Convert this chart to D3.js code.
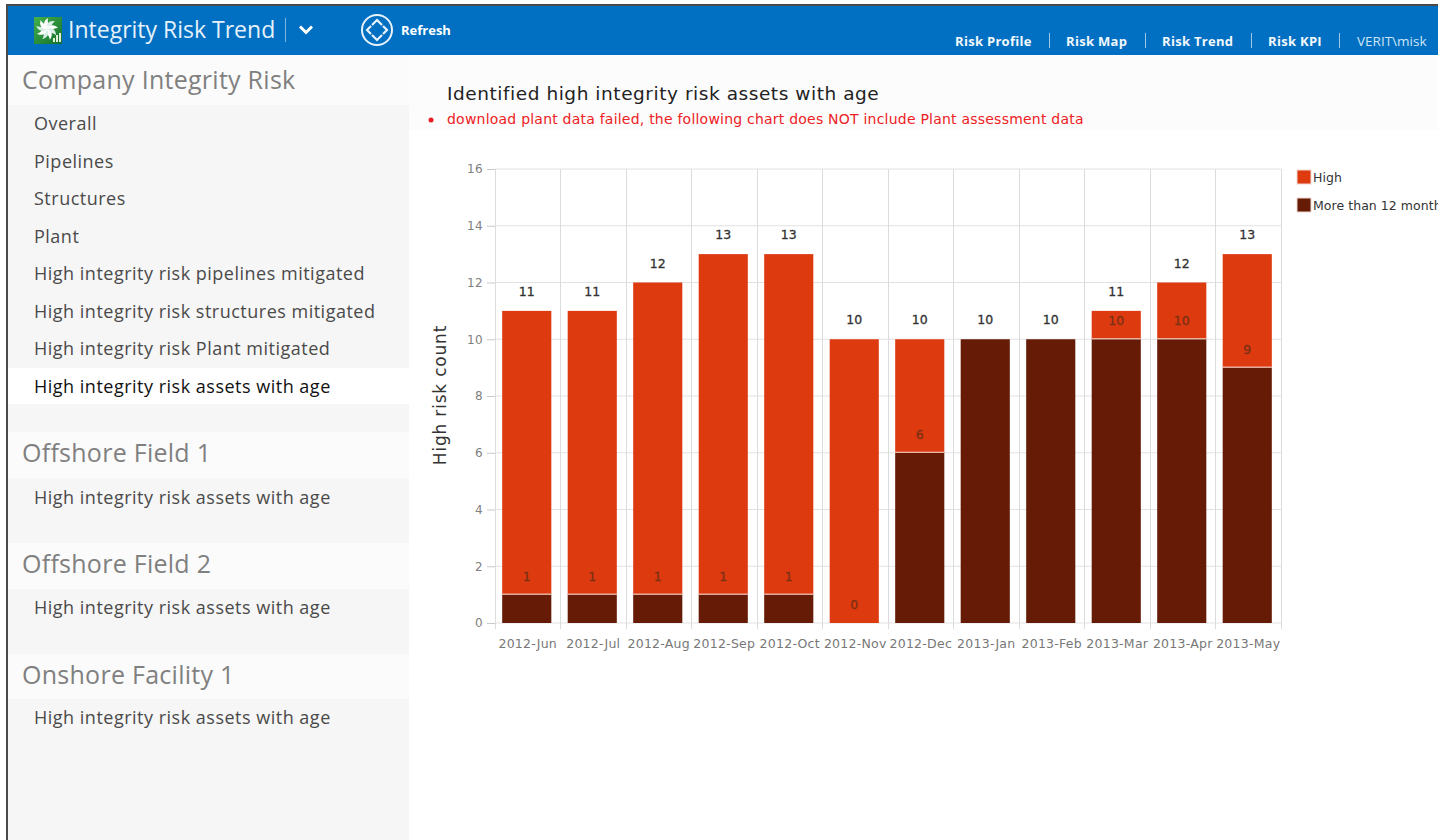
<!DOCTYPE html>
<html>
<head>
<meta charset="utf-8">
<title>Integrity Risk Trend</title>
<script src="https://cdn.jsdelivr.net/npm/d3@7"></script>
<style>
    html, body { margin: 0; padding: 0; background: #fff; overflow: hidden; }
    svg { display: block; }
    .ui { font-family: "Open Sans", "Noto Sans", sans-serif; }
    .chart text { font-family: "DejaVu Sans", sans-serif; }
</style>
</head>
<body>
<div id="block"></div>
<script>
// chart data
var months = ["2012-Jun", "2012-Jul", "2012-Aug", "2012-Sep", "2012-Oct", "2012-Nov",
              "2012-Dec", "2013-Jan", "2013-Feb", "2013-Mar", "2013-Apr", "2013-May"];
var olderCounts = [1, 1, 1, 1, 1, 0, 6, 10, 10, 10, 10, 9];
var highCounts = [10, 10, 11, 12, 12, 10, 4, 0, 0, 1, 2, 4];
var yTicks = [0, 2, 4, 6, 8, 10, 12, 14, 16];
var seriesNames = ["High", "More than 12 months"];
var seriesColors = ["#de3a10", "#661b07"];

// page text
var sections = ["Company Integrity Risk", "Offshore Field 1", "Offshore Field 2", "Onshore Facility 1"];
var companyItems = ["Overall", "Pipelines", "Structures", "Plant",
                    "High integrity risk pipelines mitigated",
                    "High integrity risk structures mitigated",
                    "High integrity risk Plant mitigated",
                    "High integrity risk assets with age"];
var fieldItem = "High integrity risk assets with age";
var navLinks = ["Risk Profile", "Risk Map", "Risk Trend", "Risk KPI"];

var svg = d3.select("#block")
            .append("svg")
            .attr("width", 1438)
            .attr("height", 840);

drawHeader();
drawSidebar();
drawChart();

function drawHeader() {
    // window frame and blue bar
    svg.append("rect").attr("x", 6).attr("y", 4).attr("width", 1432).attr("height", 2).attr("fill", "#4a4a4a");
    svg.append("rect").attr("x", 6).attr("y", 4).attr("width", 2).attr("height", 836).attr("fill", "#4a4a4a");
    svg.append("rect").attr("x", 8).attr("y", 6).attr("width", 1430).attr("height", 49).attr("fill", "#0170c2");

    // logo: pinwheel on a green tile with a small bar glyph
    var grad = svg.append("defs").append("linearGradient")
                  .attr("id", "logoFill").attr("x1", 0).attr("y1", 0).attr("x2", 1).attr("y2", 1);
    grad.append("stop").attr("offset", 0).attr("stop-color", "#45b04a");
    grad.append("stop").attr("offset", 1).attr("stop-color", "#12702c");

    var logo = svg.append("g").attr("transform", "translate(34,17)");
    logo.append("rect").attr("width", 28).attr("height", 27).attr("fill", "url(#logoFill)");
    d3.range(9).forEach(function (i) {
        logo.append("path")
            .attr("d", "M13,12 C9,9 9,4 14,1 C13,5 15,8 16,11 Z")
            .attr("fill", i % 2 ? "#d7efe6" : "#ffffff")
            .attr("transform", "rotate(" + (i * 40) + " 13 12)");
    });
    [[19, 4], [22, 7], [25, 9]].forEach(function (b) {
        logo.append("rect").attr("x", b[0]).attr("y", 25 - b[1]).attr("width", 2).attr("height", b[1]).attr("fill", "#dff0d8");
    });

    svg.append("text").attr("class", "ui")
       .attr("x", 68).attr("y", 38)
       .attr("font-size", 23).attr("fill", "#e6f1fa")
       .text("Integrity Risk Trend");
    svg.append("line").attr("x1", 285.5).attr("x2", 285.5).attr("y1", 18).attr("y2", 42)
       .attr("stroke", "#7fb6e0");
    svg.append("path").attr("d", "M300,26.5 l6,6 l6,-6")
       .attr("fill", "none").attr("stroke", "#fff").attr("stroke-width", 3);

    // refresh button
    var icon = svg.append("g").attr("transform", "translate(377,30)")
                  .attr("fill", "none").attr("stroke", "#e8f3fb");
    icon.append("circle").attr("r", 15).attr("stroke-width", 2);
    icon.append("path").attr("stroke-width", 2.2)
        .attr("d", "M-5,-5 L0,-10 L5,-5 M6,-4 L10,0 L6,4 M5,5 L0,10 L-5,5 M-6,4 L-10,0 L-6,-4");
    svg.append("text").attr("class", "ui")
       .attr("x", 401).attr("y", 35)
       .attr("font-size", 13).attr("font-weight", 700).attr("fill", "#fff")
       .text("Refresh");

    // right hand links
    var linkX = [955, 1066, 1162, 1268];
    var sepX = [1049, 1145, 1251, 1339];
    navLinks.forEach(function (d, i) {
        svg.append("text").attr("class", "ui")
           .attr("x", linkX[i]).attr("y", 46)
           .attr("font-size", 13).attr("letter-spacing", 0.3)
           .attr("font-weight", 700).attr("fill", "#f2f8fc")
           .text(d);
        svg.append("line")
           .attr("x1", sepX[i] + 0.5).attr("x2", sepX[i] + 0.5).attr("y1", 33).attr("y2", 48)
           .attr("stroke", "#9cc8e8");
    });
    svg.append("text").attr("class", "ui")
       .attr("x", 1357).attr("y", 46)
       .attr("font-size", 13.5).attr("fill", "#cfe4f4")
       .text("VERIT\\misk");
}

function drawSidebar() {
    var side = svg.append("g").attr("class", "ui");
    side.append("rect").attr("x", 8).attr("y", 55).attr("width", 401).attr("height", 785).attr("fill", "#f6f6f6");

    // section headings sit on a lighter band
    var headY = [55, 432, 543, 654];
    var headH = [50, 46, 46, 45];
    var headBase = [34, 30, 30, 30];
    sections.forEach(function (d, i) {
        side.append("rect").attr("x", 8).attr("y", headY[i]).attr("width", 401).attr("height", headH[i]).attr("fill", "#fbfbfb");
        side.append("text")
            .attr("x", 22).attr("y", headY[i] + headBase[i])
            .attr("font-size", 25).attr("letter-spacing", 0.27).attr("fill", "#808080")
            .text(d);
    });

    // current page highlight
    side.append("rect").attr("x", 8).attr("y", 368).attr("width", 401).attr("height", 36).attr("fill", "#fff");

    var itemY = d3.scalePoint().domain(companyItems).range([130, 393]);
    companyItems.forEach(function (d, i) {
        side.append("text")
            .attr("x", 34).attr("y", itemY(d))
            .attr("font-size", 18).attr("letter-spacing", 0.5)
            .attr("fill", i === companyItems.length - 1 ? "#111" : "#4a4a4a")
            .text(d);
    });
    [504, 614, 724].forEach(function (y) {
        side.append("text")
            .attr("x", 34).attr("y", y)
            .attr("font-size", 18).attr("letter-spacing", 0.5).attr("fill", "#4a4a4a")
            .text(fieldItem);
    });

    // content title strip
    side.append("rect").attr("x", 409).attr("y", 55).attr("width", 1029).attr("height", 75).attr("fill", "#fcfcfc");
}

function drawChart() {
    // dimensions
    var margin = {top: 169, right: 158, bottom: 217, left: 494},
        chart_right = 1438 - margin.right,
        chart_bottom = 840 - margin.bottom;

    var chart = svg.append("g").attr("class", "chart");

    chart.append("text")
         .attr("x", 447).attr("y", 100)
         .attr("font-size", 18.5).attr("letter-spacing", 0.55).attr("fill", "#222")
         .text("Identified high integrity risk assets with age");
    chart.append("circle").attr("cx", 431).attr("cy", 120).attr("r", 2.5).attr("fill", "#ed1c24");
    chart.append("text")
         .attr("x", 447).attr("y", 124)
         .attr("font-size", 14).attr("letter-spacing", 0.22).attr("fill", "#ed2024")
         .text("download plant data failed, the following chart does NOT include Plant assessment data");

    // scales
    var xScale = d3.scaleBand()
                   .domain(months)
                   .range([margin.left, chart_right])
                   .paddingInner(0.25)
                   .paddingOuter(0.125);
    var yScale = d3.scaleLinear()
                   .domain([0, 16])
                   .range([chart_bottom, margin.top]);

    // horizontal grid and y axis
    var yAxis = d3.axisLeft(yScale).tickValues(yTicks).tickSize(8).tickPadding(4);
    var y_axis = chart.append("g")
                      .attr("transform", "translate(" + (margin.left + 1) + ",0)")
                      .call(yAxis);
    y_axis.select(".domain").remove();
    y_axis.selectAll("line").attr("stroke", "#c8c8c8");
    y_axis.selectAll("text").attr("font-size", 12).attr("letter-spacing", 0.4).attr("fill", "#808080");

    chart.append("g").selectAll("line")
         .data(yTicks)
         .enter()
         .append("line")
         .attr("x1", margin.left + 1)
         .attr("x2", chart_right + 1)
         .attr("y1", function(d) { return yScale(d); })
         .attr("y2", function(d) { return yScale(d); })
         .attr("stroke", "#e2e2e2");

    // vertical grid runs on the band edges, ticks hang below the baseline
    var step = xScale.step();
    var edges = months.map(function(d) { return xScale(d) - step * 0.125 + 1; })
                      .concat([chart_right + 1]);
    chart.append("g").selectAll("line")
         .data(edges)
         .enter()
         .append("line")
         .attr("x1", function(d) { return Math.floor(d) + 0.5; })
         .attr("x2", function(d) { return Math.floor(d) + 0.5; })
         .attr("y1", margin.top)
         .attr("y2", chart_bottom + 6)
         .attr("stroke", "#dcdcdc");

    // x axis labels
    var xAxis = d3.axisBottom(xScale).tickSize(0).tickPadding(16);
    var x_axis = chart.append("g")
                      .attr("transform", "translate(1," + chart_bottom + ")")
                      .call(xAxis);
    x_axis.select(".domain").remove();
    x_axis.selectAll("text")
          .attr("font-size", 12.5).attr("letter-spacing", 0.25).attr("fill", "#777");

    chart.append("text")
         .attr("transform", "translate(446," + 395 + ") rotate(-90)")
         .attr("text-anchor", "middle")
         .attr("font-size", 17).attr("letter-spacing", 0.8).attr("fill", "#333")
         .text("High risk count");

    // stacked bars
    var rows = months.map(function(m, i) {
        return {month: m, older: olderCounts[i], high: highCounts[i], total: olderCounts[i] + highCounts[i]};
    });
    var bars = chart.append("g").selectAll("g")
                    .data(rows)
                    .enter()
                    .append("g");

    bars.append("rect")
        .attr("x", function(d) { return xScale(d.month); })
        .attr("width", xScale.bandwidth())
        .attr("y", function(d) { return yScale(d.total); })
        .attr("height", function(d) { return yScale(d.older) - yScale(d.total); })
        .attr("fill", seriesColors[0]);

    bars.append("rect")
        .attr("x", function(d) { return xScale(d.month); })
        .attr("width", xScale.bandwidth())
        .attr("y", function(d) { return yScale(d.older); })
        .attr("height", function(d) { return yScale(0) - yScale(d.older); })
        .attr("fill", seriesColors[1]);

    // thin light seam between the two parts of a bar
    bars.filter(function(d) { return d.older > 0 && d.high > 0; })
        .append("line")
        .attr("x1", function(d) { return xScale(d.month); })
        .attr("x2", function(d) { return xScale(d.month) + xScale.bandwidth(); })
        .attr("y1", function(d) { return yScale(d.older) - 0.5; })
        .attr("y2", function(d) { return yScale(d.older) - 0.5; })
        .attr("stroke", "#f3d9cf");

    // totals on top, older count just above its own segment
    bars.append("text")
        .attr("x", function(d) { return xScale(d.month) + xScale.bandwidth() / 2; })
        .attr("y", function(d) { return yScale(d.total) - 15; })
        .attr("text-anchor", "middle")
        .attr("font-size", 12.5)
        .attr("stroke", "#333").attr("stroke-width", 0.3)
        .attr("fill", "#333")
        .text(function(d) { return d.total; });

    bars.filter(function(d) { return d.high > 0; })
        .append("text")
        .attr("x", function(d) { return xScale(d.month) + xScale.bandwidth() / 2; })
        .attr("y", function(d) { return yScale(d.older) - 14; })
        .attr("text-anchor", "middle")
        .attr("font-size", 12.5)
        .attr("stroke", "#7a3014").attr("stroke-width", 0.3)
        .attr("fill", "#7a3014")
        .text(function(d) { return d.older; });

    // legend
    var legendY = [177, 205];
    seriesNames.forEach(function(name, i) {
        chart.append("rect")
             .attr("x", 1297).attr("y", legendY[i] - 7)
             .attr("width", 14).attr("height", 14)
             .attr("fill", seriesColors[i])
             .attr("stroke", "#f0d8d0");
        chart.append("text")
             .attr("x", 1313).attr("y", legendY[i] + 5)
             .attr("font-size", 12.5).attr("letter-spacing", 0.05).attr("fill", "#333")
             .text(name);
    });
}
</script>
</body>
</html>
